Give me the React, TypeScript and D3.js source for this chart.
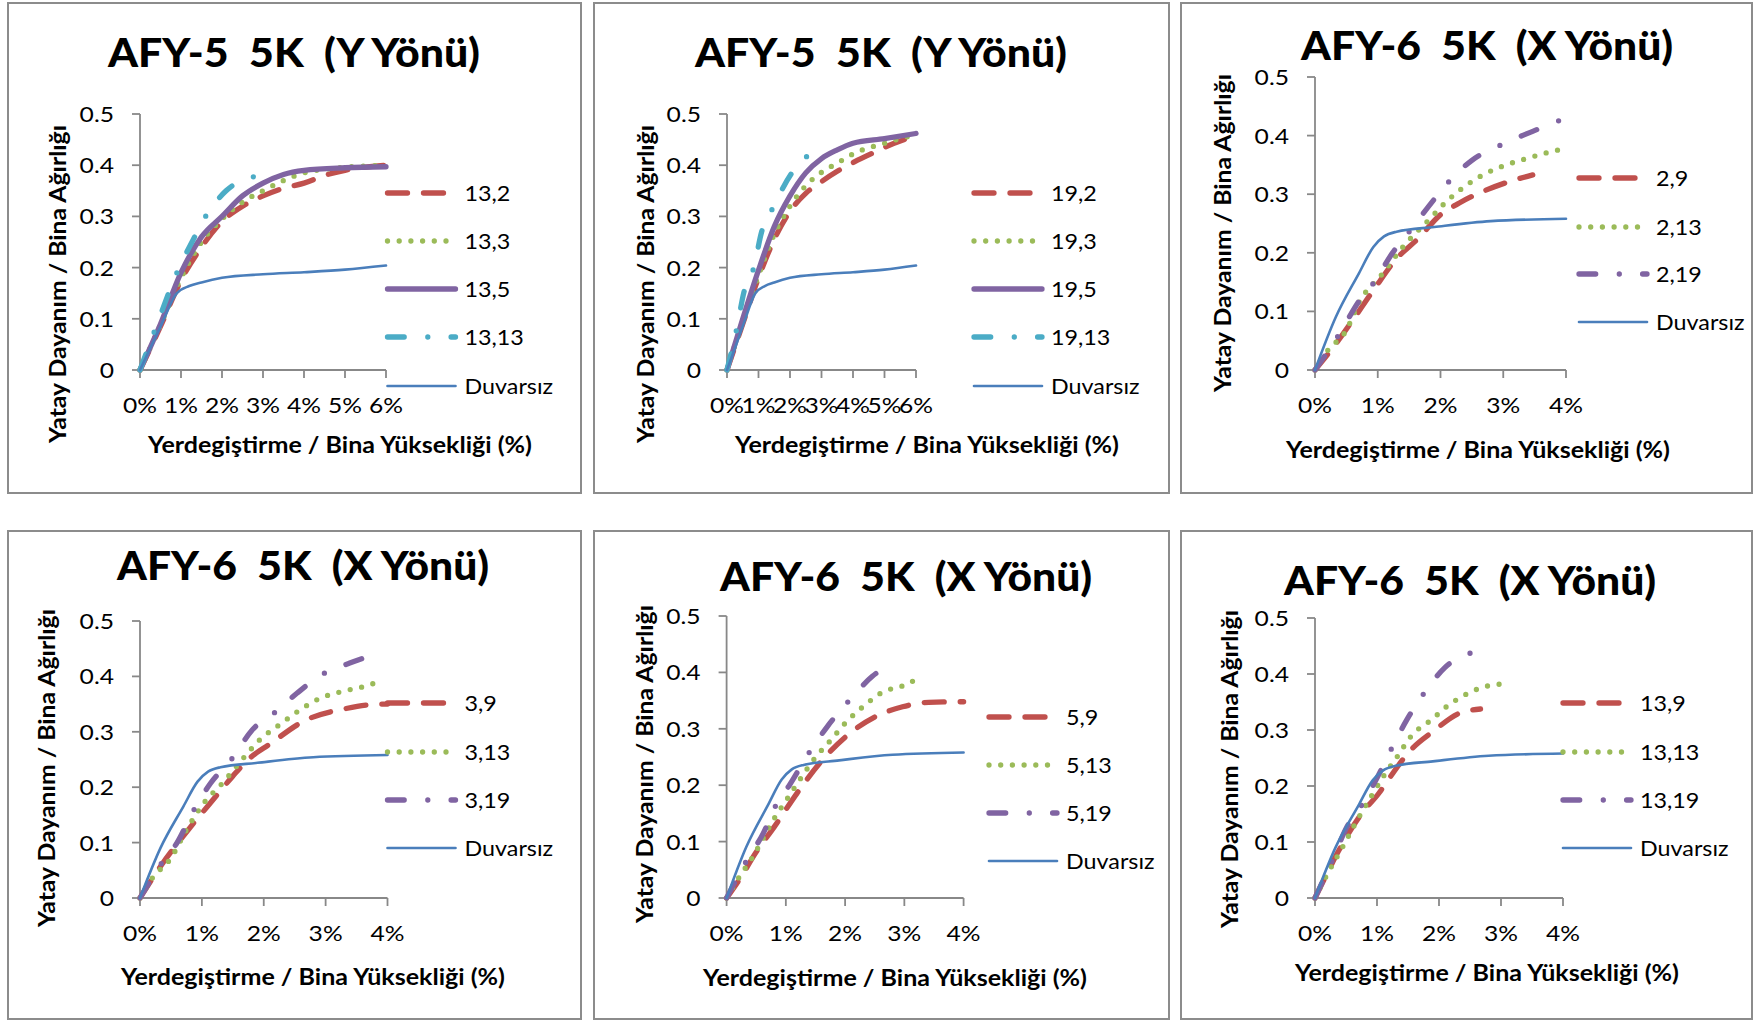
import React from "react";
import * as d3 from "d3";

type Pt = [number, number];

// ---------------- DATA ----------------
const titles = [
  "AFY-5  5K  (Y Yönü)",
  "AFY-5  5K  (Y Yönü)",
  "AFY-6  5K  (X Yönü)",
  "AFY-6  5K  (X Yönü)",
  "AFY-6  5K  (X Yönü)",
  "AFY-6  5K  (X Yönü)",
];
const xAxisTitle = "Yerdegiştirme / Bina Yüksekliği (%)";
const yAxisTitle = "Yatay Dayanım / Bina Ağırlığı";
const yTicks = [0, 0.1, 0.2, 0.3, 0.4, 0.5];
const xTicksWide = [0, 1, 2, 3, 4, 5, 6];
const xTicksNarrow = [0, 1, 2, 3, 4];

const duvarsizY: Pt[] = [[0, 0], [0.5, 0.085], [0.9, 0.15], [1.2, 0.164], [1.5, 0.171], [2, 0.18], [3, 0.187], [4, 0.191], [5, 0.196], [6, 0.204]];
const duvarsizX: Pt[] = [[0, 0], [0.33, 0.09], [0.7, 0.165], [0.93, 0.21], [1.1, 0.228], [1.3, 0.236], [1.9, 0.244], [2.8, 0.254], [4, 0.258]];

// Panel 1 (13,x)
const s13_2: Pt[] = [[0, 0], [0.5, 0.085], [1, 0.175], [1.5, 0.24], [2, 0.29], [2.5, 0.32], [3, 0.34], [3.5, 0.355], [4, 0.365], [4.5, 0.38], [5, 0.39], [6, 0.4]];
const s13_3: Pt[] = [[0, 0], [0.5, 0.088], [1, 0.18], [1.5, 0.25], [2, 0.295], [2.5, 0.328], [3, 0.35], [3.5, 0.37], [4, 0.385], [4.5, 0.392], [5, 0.396], [6, 0.4]];
const s13_5: Pt[] = [[0, 0], [0.5, 0.09], [1, 0.19], [1.5, 0.26], [2, 0.3], [2.5, 0.34], [3, 0.365], [3.5, 0.382], [4, 0.39], [5, 0.395], [6, 0.397]];
const s13_13: Pt[] = [[0, 0], [0.35, 0.075], [0.9, 0.19], [1.3, 0.255], [1.6, 0.3], [2.1, 0.35], [2.8, 0.378]];

// Panel 2 (19,x)
const s19_2: Pt[] = [[0, 0], [0.5, 0.09], [1, 0.18], [1.5, 0.255], [2, 0.31], [2.5, 0.345], [3, 0.368], [3.5, 0.388], [4, 0.405], [4.5, 0.42], [5, 0.435], [6, 0.458]];
const s19_3: Pt[] = [[0, 0], [0.5, 0.095], [1, 0.185], [1.5, 0.265], [2, 0.32], [2.5, 0.36], [3, 0.386], [3.5, 0.404], [4, 0.422], [5, 0.443], [6, 0.46]];
const s19_5: Pt[] = [[0, 0], [0.5, 0.1], [1, 0.195], [1.5, 0.28], [2, 0.34], [2.5, 0.385], [3, 0.413], [3.5, 0.43], [4, 0.443], [5, 0.452], [6, 0.462]];
const s19_13: Pt[] = [[0, 0], [0.3, 0.078], [0.55, 0.155], [0.85, 0.2], [1.1, 0.27], [1.45, 0.316], [2.05, 0.384], [2.55, 0.418]];

// Panel 3 (2,x)
const s2_9: Pt[] = [[0, 0], [0.3, 0.04], [0.6, 0.085], [0.93, 0.136], [1.3, 0.19], [1.65, 0.225], [2, 0.265], [2.3, 0.285], [2.66, 0.304], [3.08, 0.321], [3.47, 0.333]];
const s2_13: Pt[] = [[0, 0], [0.2, 0.033], [0.5, 0.068], [0.7, 0.115], [1.08, 0.165], [1.4, 0.21], [1.83, 0.258], [2.07, 0.285], [2.37, 0.312], [2.66, 0.332], [3.02, 0.349], [3.38, 0.361], [3.74, 0.372], [3.95, 0.377]];
const s2_19: Pt[] = [[0, 0], [0.36, 0.057], [0.75, 0.125], [0.93, 0.148], [1.23, 0.199], [1.53, 0.24], [1.89, 0.29], [2.13, 0.321], [2.49, 0.357], [2.96, 0.384], [3.44, 0.406], [3.9, 0.426]];

// Panel 4 (3,x)
const s3_9: Pt[] = [[0, 0], [0.35, 0.06], [0.78, 0.123], [1.2, 0.18], [1.5, 0.22], [1.75, 0.25], [2.1, 0.278], [2.66, 0.32], [3.33, 0.342], [3.88, 0.35], [4, 0.35]];
const s3_13: Pt[] = [[0, 0], [0.2, 0.036], [0.5, 0.072], [0.75, 0.123], [1.05, 0.174], [1.33, 0.207], [1.69, 0.255], [1.93, 0.285], [2.27, 0.314], [2.54, 0.336], [2.9, 0.36], [3.27, 0.373], [3.63, 0.382], [3.82, 0.389]];
const s3_19: Pt[] = [[0, 0], [0.35, 0.063], [0.6, 0.1], [0.87, 0.159], [1.14, 0.207], [1.49, 0.252], [1.81, 0.303], [2.19, 0.336], [2.54, 0.37], [3.0, 0.407], [3.39, 0.424], [3.64, 0.434]];

// Panel 5 (5,x)
const s5_9: Pt[] = [[0, 0], [0.23, 0.035], [0.49, 0.08], [0.81, 0.127], [1.19, 0.186], [1.57, 0.239], [2.01, 0.286], [2.52, 0.322], [2.97, 0.339], [3.41, 0.347], [4, 0.348]];
const s5_13: Pt[] = [[0, 0], [0.2, 0.035], [0.43, 0.071], [0.81, 0.142], [1.03, 0.177], [1.25, 0.212], [1.49, 0.248], [1.76, 0.28], [2.01, 0.311], [2.3, 0.339], [2.65, 0.366], [2.97, 0.376], [3.19, 0.387]];
const s5_19: Pt[] = [[0, 0], [0.33, 0.065], [0.62, 0.115], [0.83, 0.164], [1.06, 0.2], [1.4, 0.259], [1.7, 0.304], [2.05, 0.348], [2.46, 0.393], [2.85, 0.42]];

// Panel 6 (13,x)
const s13_9: Pt[] = [[0, 0], [0.12, 0.027], [0.39, 0.086], [0.76, 0.152], [1.03, 0.187], [1.18, 0.211], [1.55, 0.265], [1.91, 0.298], [2.33, 0.33], [2.67, 0.3375]];
const s13_13x: Pt[] = [[0, 0], [0.18, 0.039], [0.45, 0.092], [0.64, 0.131], [0.92, 0.184], [1.12, 0.22], [1.33, 0.253], [1.55, 0.289], [1.91, 0.321], [2.09, 0.339], [2.39, 0.361], [2.76, 0.378], [3.0, 0.382]];
const s13_19: Pt[] = [[0, 0], [0.27, 0.065], [0.52, 0.128], [0.76, 0.167], [0.97, 0.208], [1.24, 0.268], [1.48, 0.318], [1.76, 0.366], [2.09, 0.411], [2.55, 0.439]];

const names1 = ["13,2", "13,3", "13,5", "13,13", "Duvarsız"];
const names2 = ["19,2", "19,3", "19,5", "19,13", "Duvarsız"];
const names3 = ["2,9", "2,13", "2,19", "Duvarsız"];
const names4 = ["3,9", "3,13", "3,19", "Duvarsız"];
const names5 = ["5,9", "5,13", "5,19", "Duvarsız"];
const names6 = ["13,9", "13,13", "13,19", "Duvarsız"];

const values1 = [s13_2, s13_3, s13_5, s13_13, duvarsizY];
const values2 = [s19_2, s19_3, s19_5, s19_13, duvarsizY];
const values3 = [s2_9, s2_13, s2_19, duvarsizX];
const values4 = [s3_9, s3_13, s3_19, duvarsizX];
const values5 = [s5_9, s5_13, s5_19, duvarsizX];
const values6 = [s13_9, s13_13x, s13_19, duvarsizX];

// ---------------- STYLES ----------------
type Style = { color: string; width: number; dash?: string; len: number };
const RED: Style = { color: "#C0504D", width: 5.3, dash: "20 16", len: 62 };
const GREEN: Style = { color: "#9BBB59", width: 5.3, dash: "0 11.7", len: 62 };
const PURPLE: Style = { color: "#8064A2", width: 5.3, len: 68 };
const PURPLE_DD: Style = { color: "#8064A2", width: 5.3, dash: "16.7 23.6 0 23.3", len: 68 };
const CYAN_DD: Style = { color: "#4BACC6", width: 5.3, dash: "16.7 23.6 0 23.3", len: 68 };
const BLUE: Style = { color: "#4A7EBB", width: 2.6, len: 68 };

const stylesY = [RED, GREEN, PURPLE, CYAN_DD, BLUE];
const stylesX = [RED, GREEN, PURPLE_DD, BLUE];

// ---------------- LAYOUT ----------------
type Layout = {
  box: [number, number, number, number];
  x0: number; x1: number; xMax: number;
  y0: number; y1: number;
  titleX: number; titleY: number;
  xtY: number;
  xTitleX: number; xTitleY: number;
  yTitleX: number; yTitleY: number;
  legX: number; legY: number[];
};

const layouts: Layout[] = [
  { box: [8, 3, 581, 493], x0: 140, x1: 386, xMax: 6, y0: 370, y1: 114, titleX: 294, titleY: 67, xtY: 405, xTitleX: 340, xTitleY: 445, yTitleX: 58, yTitleY: 284, legX: 387.5, legY: [193, 241, 289, 337, 386] },
  { box: [594, 3, 1169, 493], x0: 727, x1: 916, xMax: 6, y0: 370, y1: 114, titleX: 881, titleY: 67, xtY: 405, xTitleX: 927, xTitleY: 445, yTitleX: 646, yTitleY: 284, legX: 974, legY: [193, 241, 289, 337, 386] },
  { box: [1181, 3, 1752, 493], x0: 1315, x1: 1566, xMax: 4, y0: 370, y1: 77, titleX: 1487, titleY: 60, xtY: 405, xTitleX: 1478, xTitleY: 450, yTitleX: 1223, yTitleY: 233, legX: 1579, legY: [178, 227, 274, 322] },
  { box: [8, 531, 581, 1019], x0: 140, x1: 387.5, xMax: 4, y0: 898, y1: 621, titleX: 303, titleY: 580, xtY: 933, xTitleX: 313, xTitleY: 977, yTitleX: 47, yTitleY: 768, legX: 387.5, legY: [703, 752, 800, 848] },
  { box: [594, 531, 1169, 1019], x0: 726.6, x1: 963.6, xMax: 4, y0: 898, y1: 616, titleX: 906, titleY: 591, xtY: 933, xTitleX: 895, xTitleY: 978, yTitleX: 645, yTitleY: 764, legX: 989, legY: [717, 765, 813, 861] },
  { box: [1181, 531, 1752, 1019], x0: 1315, x1: 1563, xMax: 4, y0: 898, y1: 618, titleX: 1470, titleY: 595, xtY: 933, xTitleX: 1487, xTitleY: 973, yTitleX: 1230, yTitleY: 769, legX: 1563, legY: [703, 752, 800, 848] },
];

const panels = [
  { title: titles[0], names: names1, values: values1, styles: stylesY, xTicks: xTicksWide },
  { title: titles[1], names: names2, values: values2, styles: stylesY, xTicks: xTicksWide },
  { title: titles[2], names: names3, values: values3, styles: stylesX, xTicks: xTicksNarrow },
  { title: titles[3], names: names4, values: values4, styles: stylesX, xTicks: xTicksNarrow },
  { title: titles[4], names: names5, values: values5, styles: stylesX, xTicks: xTicksNarrow },
  { title: titles[5], names: names6, values: values6, styles: stylesX, xTicks: xTicksNarrow },
];

const FONT = "Lato, 'Open Sans', sans-serif";
const SX_TICK = 1.12;
const SX_LEG = 1.06;
const TICK_FS = 22;
const AXIS_COLOR = "#888888";

function SText(props: { x: number; y: number; anchor?: string; size: number; sx: number; children: React.ReactNode }) {
  const { x, y, anchor = "start", size, sx, children } = props;
  return (
    <text transform={`translate(${x},${y}) scale(${sx},1)`} textAnchor={anchor as any} fontSize={size} fontFamily={FONT} fill="#000">
      {children}
    </text>
  );
}

function Panel({ p, L }: { p: typeof panels[number]; L: Layout }) {
  const x = d3.scaleLinear().domain([0, L.xMax]).range([L.x0, L.x1]);
  const y = d3.scaleLinear().domain([0, 0.5]).range([L.y0, L.y1]);
  const line = d3.line<Pt>().x((d) => x(d[0])).y((d) => y(d[1])).curve(d3.curveMonotoneX);
  const [bx0, by0, bx1, by1] = L.box;
  return (
    <g>
      <rect x={bx0} y={by0} width={bx1 - bx0} height={by1 - by0} fill="#fff" stroke="#8c8c8c" strokeWidth={2} />
      <text x={L.titleX} y={L.titleY} textAnchor="middle" fontFamily={FONT} fontWeight={900} fontSize={39} textLength={372} lengthAdjust="spacingAndGlyphs" style={{ whiteSpace: "pre" }}>
        {p.title}
      </text>
      {/* y axis */}
      <line x1={L.x0} x2={L.x0} y1={y(0)} y2={y(0.5)} stroke={AXIS_COLOR} strokeWidth={1.8} />
      {yTicks.map((t) => (
        <g key={"y" + t}>
          <line x1={L.x0 - 8} x2={L.x0} y1={y(t)} y2={y(t)} stroke={AXIS_COLOR} strokeWidth={1.8} />
          <SText x={L.x0 - 26} y={y(t) + 8} anchor="end" size={TICK_FS} sx={SX_TICK}>{String(t)}</SText>
        </g>
      ))}
      {/* x axis */}
      <line x1={x(0)} x2={x(L.xMax)} y1={L.y0} y2={L.y0} stroke={AXIS_COLOR} strokeWidth={1.8} />
      {p.xTicks.map((t) => (
        <g key={"x" + t}>
          <line x1={x(t)} x2={x(t)} y1={L.y0} y2={L.y0 + 8} stroke={AXIS_COLOR} strokeWidth={1.8} />
          <SText x={x(t)} y={L.xtY + 8} anchor="middle" size={TICK_FS} sx={SX_TICK}>{`${t}%`}</SText>
        </g>
      ))}
      {/* axis titles */}
      <text x={L.xTitleX} y={L.xTitleY + 8} textAnchor="middle" fontFamily={FONT} fontWeight="bold" fontSize={23} textLength={384} lengthAdjust="spacingAndGlyphs">
        {xAxisTitle}
      </text>
      <text transform={`translate(${L.yTitleX + 8},${L.yTitleY}) rotate(-90)`} textAnchor="middle" fontFamily={FONT} fontWeight="bold" fontSize={23} textLength={318} lengthAdjust="spacingAndGlyphs">
        {yAxisTitle}
      </text>
      {/* series */}
      {p.values.map((v, i) => {
        const s = p.styles[i];
        return (
          <path key={"s" + i} d={line(v) || ""} fill="none" stroke={s.color} strokeWidth={s.width} strokeDasharray={s.dash} strokeLinecap="round" strokeLinejoin="round" />
        );
      })}
      {/* legend */}
      {p.names.map((n, i) => {
        const s = p.styles[i];
        const ly = L.legY[i];
        return (
          <g key={"l" + i}>
            <line x1={L.legX} x2={L.legX + s.len} y1={ly} y2={ly} stroke={s.color} strokeWidth={s.width} strokeDasharray={s.dash} strokeLinecap="round" />
            <SText x={L.legX + 77} y={ly + 8} size={TICK_FS} sx={SX_LEG}>{n}</SText>
          </g>
        );
      })}
    </g>
  );
}

export default function App() {
  return (
    <svg width={1756} height={1021} style={{ position: "absolute", left: 0, top: 0, background: "#fff" }}>
      <rect x={0} y={0} width={1756} height={1021} fill="#fff" />
      {panels.map((p, i) => (
        <Panel key={i} p={p} L={layouts[i]} />
      ))}
    </svg>
  );
}
